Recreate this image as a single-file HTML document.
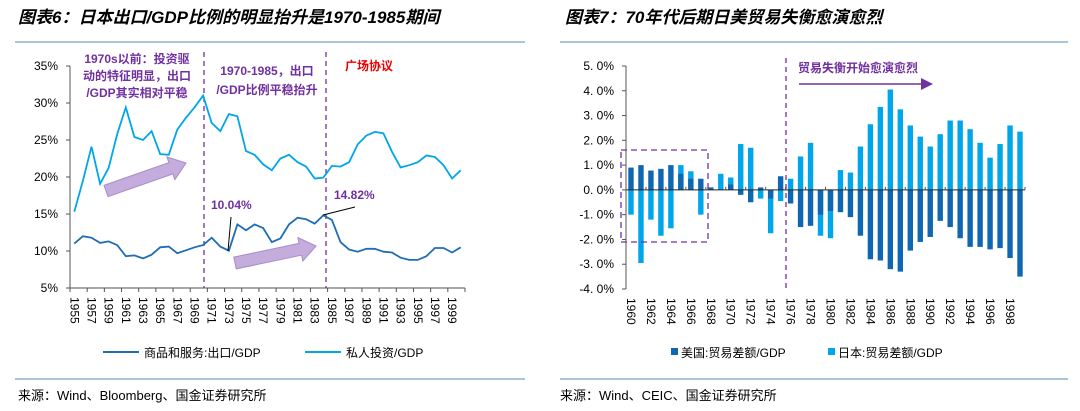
<!DOCTYPE html>
<html><head><meta charset="utf-8">
<style>
body{margin:0;background:#fff;}
svg{display:block;font-family:"Liberation Sans","Noto Sans CJK SC",sans-serif;}
</style></head>
<body>
<svg id="s" width="1080" height="411" viewBox="0 0 1080 411" xmlns="http://www.w3.org/2000/svg">
<g font-style="italic" font-weight="bold" font-size="17" fill="#000">
<text x="18" y="23">图表6：日本出口/GDP比例的明显抬升是1970-1985期间</text>
<text x="565" y="23">图表7：70年代后期日美贸易失衡愈演愈烈</text>
</g>
<line x1="15" y1="42" x2="525" y2="42" stroke="#8fb0c8" stroke-width="1.5"/>
<line x1="560" y1="42" x2="1068" y2="42" stroke="#8fb0c8" stroke-width="1.5"/>
<line x1="15" y1="379" x2="525" y2="379" stroke="#8fb0c8" stroke-width="1.5"/>
<line x1="560" y1="379" x2="1068" y2="379" stroke="#8fb0c8" stroke-width="1.5"/>
<text x="18" y="400" font-size="13">来源：Wind、Bloomberg、国金证券研究所</text>
<text x="560" y="400" font-size="13">来源：Wind、CEIC、国金证券研究所</text>
<g id="left"></g>
<g id="right"></g>
</svg>
<script>
const NS="http://www.w3.org/2000/svg";
const years=[];for(let y=1955;y<=2000;y++)years.push(y);
const exportGDP=[11.0,12.0,11.8,11.1,11.3,10.8,9.3,9.4,9.0,9.5,10.5,10.6,9.7,10.1,10.5,10.8,11.8,10.6,10.04,13.6,12.8,13.6,13.1,11.2,11.7,13.6,14.5,14.3,13.7,14.82,14.2,11.2,10.2,9.9,10.3,10.3,9.9,9.8,9.1,8.8,8.8,9.3,10.4,10.4,9.8,10.5];
const investGDP=[15.3,19.5,24.1,19.1,21.2,25.8,29.4,25.4,25.0,26.2,23.1,23.0,26.4,28.0,29.4,31.0,27.3,26.2,28.5,28.2,23.5,23.0,21.7,20.9,22.5,23.0,22.0,21.4,19.8,19.9,21.5,21.4,22.0,24.4,25.6,26.1,25.9,23.4,21.3,21.6,22.0,22.9,22.7,21.6,19.8,20.9];
const leftTicks=[5,10,15,20,25,30,35];
const barYears=[];for(let y=1960;y<=1999;y++)barYears.push(y);
const usBal=[0.9,1.0,0.78,0.85,1.0,0.65,0.45,0.45,0.1,0.0,0.22,-0.2,-0.5,0.1,-0.35,0.55,-0.55,-1.5,-1.45,-1.0,-0.85,-0.9,-1.1,-1.85,-2.8,-2.85,-3.2,-3.3,-2.45,-2.1,-1.9,-1.25,-1.5,-1.95,-2.3,-2.3,-2.4,-2.35,-2.75,-3.5];
const jpBal=[-1.0,-2.95,-1.2,-1.85,-1.55,1.0,0.75,-1.0,0.05,0.65,0.5,1.85,1.7,-0.35,-1.75,-0.45,0.45,1.35,1.9,-1.85,-1.95,0.8,0.7,1.75,2.65,3.35,4.05,3.25,2.6,2.15,1.75,2.25,2.8,2.8,2.45,1.9,1.3,1.85,2.6,2.35];
const rightTicks=[-4,-3,-2,-1,0,1,2,3,4,5];

function el(parent,tag,attrs,text){const e=document.createElementNS(NS,tag);for(const k in attrs)e.setAttribute(k,attrs[k]);if(text!==undefined)e.textContent=text;parent.appendChild(e);return e;}

// LEFT
const L=document.getElementById('left');
const lx0=70,lx1=465,ly0=288,ly1=66;
const lxs=i=>lx0+(lx1-lx0)/years.length*(i+0.5);
const lys=v=>ly0-(v-5)/30*(ly0-ly1);
let e=el(L,'line',{x1:lx0,y1:ly1,x2:lx0,y2:ly0,stroke:'#555'});

e=el(L,'line',{x1:lx0,y1:ly0,x2:lx1,y2:ly0,stroke:'#555'});

leftTicks.forEach(t=>{const y=lys(t);
 e=el(L,'line',{x1:lx0-4,y1:y,x2:lx0,y2:y,stroke:'#555'});
 e=el(L,'text',{x:lx0-12,y:y+4,'text-anchor':'end','font-size':12},t+'%');});
for(let i=0;i<=years.length;i+=2){const x=lx0+(lx1-lx0)/years.length*i;
 e=el(L,'line',{x1:x,y1:ly0,x2:x,y2:ly0+4,stroke:'#555'});}
years.forEach((yr,i)=>{if(i%2)return;const x=lxs(i);
 e=el(L,'text',{x:0,y:0,'font-size':12,transform:`translate(${x-4},297) rotate(90)`},yr);});
// dashed separators
[[204],[326]].forEach(([x])=>{e=el(L,'line',{x1:x,y1:52,x2:x,y2:ly0,stroke:'#7030A0','stroke-dasharray':'5,4','stroke-width':1.3});});
// arrows
function fatArrow(g,x1,y1,x2,y2,name){const dx=x2-x1,dy=y2-y1,len=Math.hypot(dx,dy),a=Math.atan2(dy,dx)*180/Math.PI;
 const p=`0,-6 ${len-16},-6 ${len-16},-12 ${len},0 ${len-16},12 ${len-16},6 0,6`;
 const pe=el(g,'polygon',{points:p,fill:'#c4acdc',stroke:'#a88cc8','stroke-width':1,transform:`translate(${x1},${y1}) rotate(${a})`});}
fatArrow(L,106,191,186,163,'trend-arrow-1');
fatArrow(L,235,263,316,246,'trend-arrow-2');
// lines
function path(arr,xs,ys){return arr.map((v,i)=>(i?'L':'M')+xs(i).toFixed(1)+','+ys(v).toFixed(1)).join(' ');}
e=el(L,'path',{d:path(investGDP,lxs,lys),fill:'none',stroke:'#00A6EA','stroke-width':1.8});
e=el(L,'path',{d:path(exportGDP,lxs,lys),fill:'none',stroke:'#1F6DB3','stroke-width':1.8});
// annotations
const ann=el(L,'g',{fill:'#7030A0','font-weight':'bold','font-size':12});
[['1970s以前：投资驱',137,63],['动的特征明显，出口',137,80],['/GDP其实相对平稳',137,97],['1970-1985，出口',267,75],['/GDP比例平稳抬升',267,94]].forEach(([t,x,y])=>{e=el(ann,'text',{x:x,y:y,'text-anchor':'middle'},t);});
e=el(L,'text',{x:345,y:70,fill:'#e00','font-size':12,'font-weight':'bold'},'广场协议');
e=el(L,'text',{x:211,y:209,fill:'#7030A0','font-size':12,'font-weight':'bold'},'10.04%');
e=el(L,'line',{x1:231,y1:217,x2:228,y2:251,stroke:'#000'});
e=el(L,'text',{x:334,y:199,fill:'#7030A0','font-size':12,'font-weight':'bold'},'14.82%');
e=el(L,'line',{x1:355,y1:207,x2:323,y2:215,stroke:'#000'});
// legend
const lg=el(L,'g',{'font-size':12});
e=el(lg,'line',{x1:103,y1:352,x2:139,y2:352,stroke:'#1F6DB3','stroke-width':2});
e=el(lg,'text',{x:144,y:357},'商品和服务:出口/GDP');
e=el(lg,'line',{x1:305,y1:352,x2:341,y2:352,stroke:'#00A6EA','stroke-width':2});
e=el(lg,'text',{x:346,y:357},'私人投资/GDP');

// RIGHT
const R=document.getElementById('right');
const rx0=626,rx1=1025,ry0=289,ry1=66;
const bw=(rx1-rx0)/barYears.length;
const rxs=i=>rx0+bw*(i+0.5);
const rys=v=>ry0-(v+4)/9*(ry0-ry1);
e=el(R,'line',{x1:rx0,y1:ry1,x2:rx0,y2:ry0,stroke:'#555'});
rightTicks.forEach(t=>{const y=rys(t);
 e=el(R,'line',{x1:rx0-4,y1:y,x2:rx0,y2:y,stroke:'#555'});
 e=el(R,'text',{x:rx0-12,y:y+4,'text-anchor':'end','font-size':12},t.toFixed(1).replace('.', '. ')+'%');});
function bar(v,i,color,name){const y0=rys(0),y=rys(v);const r=el(R,'rect',{x:rxs(i)-2.7,y:Math.min(y0,y),width:5.4,height:Math.abs(y-y0),fill:color});}
jpBal.forEach((v,i)=>bar(v,i,'#00A6EA','bar-japan'));
usBal.forEach((v,i)=>bar(v,i,'#0F67B1','bar-us'));
e=el(R,'line',{x1:rx0,y1:rys(0),x2:rx1,y2:rys(0),stroke:'#222'});
for(let i=0;i<=barYears.length;i+=2){const x=rx0+bw*i;e=el(R,'line',{x1:x,y1:rys(0)-3,x2:x,y2:rys(0),stroke:'#555'});}
barYears.forEach((yr,i)=>{if(i%2)return;const x=rxs(i);
 e=el(R,'text',{x:0,y:0,'font-size':12,transform:`translate(${x-4},298) rotate(90)`},yr);});
e=el(R,'rect',{x:621,y:150,width:87,height:92,fill:'none',stroke:'#7030A0','stroke-dasharray':'6,4','stroke-width':1.3});
e=el(R,'line',{x1:786,y1:58,x2:786,y2:292,stroke:'#7030A0','stroke-dasharray':'5,4','stroke-width':1.3});
e=el(R,'text',{x:798,y:72,fill:'#7030A0','font-size':12,'font-weight':'bold'},'贸易失衡开始愈演愈烈');
e=el(R,'line',{x1:799,y1:84,x2:924,y2:84,stroke:'#7030A0','stroke-width':1.5});
e=el(R,'polygon',{points:'921,78 933,84 921,90',fill:'#7030A0'});
const rg=el(R,'g',{'font-size':12});
e=el(rg,'rect',{x:671,y:348,width:7,height:7,fill:'#0F67B1'});
e=el(rg,'text',{x:681,y:357},'美国:贸易差额/GDP');
e=el(rg,'rect',{x:828,y:348,width:7,height:7,fill:'#00A6EA'});
e=el(rg,'text',{x:838,y:357},'日本:贸易差额/GDP');
</script>
</body></html>
